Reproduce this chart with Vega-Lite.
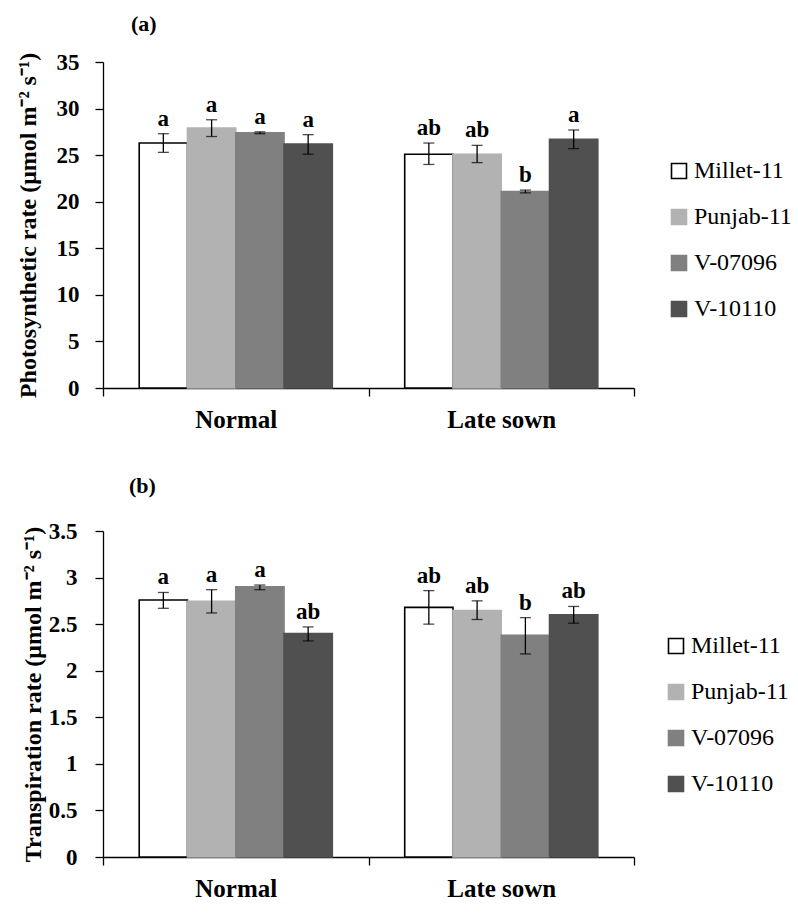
{
  "$schema": "https://vega.github.io/schema/vega-lite/v6.json",
  "padding": {"left": 16, "top": 13, "right": 5, "bottom": 5},
  "background": "white",
  "config": {
    "font": "Liberation Serif",
    "view": {"stroke": null},
    "axis": {
      "domainColor": "black",
      "domainWidth": 1.3,
      "tickColor": "black",
      "tickWidth": 1.3,
      "labelColor": "black",
      "titleColor": "black",
      "labelFont": "Liberation Serif",
      "titleFont": "Liberation Serif",
      "grid": false
    },
    "text": {"font": "Liberation Serif"},
    "title": {"font": "Liberation Serif", "fontSize": 22, "fontWeight": "bold", "color": "black", "anchor": "start", "frame": "group"},
    "legend": {
      "orient": "none",
      "symbolType": "square",
      "symbolSize": 225,
      "symbolStrokeWidth": 1.6,
      "labelFont": "Liberation Serif",
      "labelFontSize": 24,
      "labelColor": "black",
      "labelOffset": 3,
      "rowPadding": 22,
      "title": null
    }
  },
  "datasets": {
    "pa": [
      {"sowing": "Normal", "variety": "Millet-11", "mean": 26.3, "lo": 25.3, "hi": 27.3, "letter": "a"},
      {"sowing": "Normal", "variety": "Punjab-11", "mean": 27.9, "lo": 27.0, "hi": 28.8, "letter": "a"},
      {"sowing": "Normal", "variety": "V-07096", "mean": 27.4, "lo": 27.3, "hi": 27.5, "letter": "a"},
      {"sowing": "Normal", "variety": "V-10110", "mean": 26.2, "lo": 25.1, "hi": 27.2, "letter": "a"},
      {"sowing": "Late sown", "variety": "Millet-11", "mean": 25.1, "lo": 24.0, "hi": 26.3, "letter": "ab"},
      {"sowing": "Late sown", "variety": "Punjab-11", "mean": 25.1, "lo": 24.2, "hi": 26.05, "letter": "ab"},
      {"sowing": "Late sown", "variety": "V-07096", "mean": 21.1, "lo": 20.95, "hi": 21.25, "letter": "b"},
      {"sowing": "Late sown", "variety": "V-10110", "mean": 26.7, "lo": 25.7, "hi": 27.7, "letter": "a"}
    ],
    "pb": [
      {"sowing": "Normal", "variety": "Millet-11", "mean": 2.76, "lo": 2.67, "hi": 2.84, "letter": "a"},
      {"sowing": "Normal", "variety": "Punjab-11", "mean": 2.745, "lo": 2.62, "hi": 2.87, "letter": "a"},
      {"sowing": "Normal", "variety": "V-07096", "mean": 2.9, "lo": 2.87, "hi": 2.92, "letter": "a"},
      {"sowing": "Normal", "variety": "V-10110", "mean": 2.4, "lo": 2.32, "hi": 2.47, "letter": "ab"},
      {"sowing": "Late sown", "variety": "Millet-11", "mean": 2.68, "lo": 2.5, "hi": 2.86, "letter": "ab"},
      {"sowing": "Late sown", "variety": "Punjab-11", "mean": 2.645, "lo": 2.55, "hi": 2.75, "letter": "ab"},
      {"sowing": "Late sown", "variety": "V-07096", "mean": 2.38, "lo": 2.18, "hi": 2.57, "letter": "b"},
      {"sowing": "Late sown", "variety": "V-10110", "mean": 2.6, "lo": 2.51, "hi": 2.69, "letter": "ab"}
    ]
  },
  "columns": 1,
  "align": "none",
  "spacing": 43,
  "resolve": {
    "scale": {"fill": "independent", "stroke": "independent"},
    "legend": {"fill": "independent", "stroke": "independent"}
  },
  "concat": [
    {
      "title": {"text": "(a)", "dx": 28, "offset": 15},
      "width": 531,
      "height": 326,
      "data": {"name": "pa"},
      "encoding": {
        "x": {
          "field": "sowing", "type": "nominal", "sort": ["Normal", "Late sown"],
          "scale": {"paddingInner": 0, "paddingOuter": 0},
          "axis": {"title": null, "labelAngle": 0, "tickBand": "extent", "tickSize": 8, "labelPadding": 11, "labelFontSize": 25, "labelFontWeight": "bold", "labelFont": "Liberation Serif"}
        },
        "xOffset": {
          "field": "variety", "type": "nominal", "sort": ["Millet-11", "Punjab-11", "V-07096", "V-10110"],
          "scale": {"paddingInner": 0, "paddingOuter": 0.75}
        }
      },
      "layer": [
        {
          "mark": {"type": "bar", "strokeWidth": 1.6},
          "encoding": {
            "y": {
              "field": "mean", "type": "quantitative",
              "scale": {"domain": [0, 35], "nice": false},
              "title": "Photosynthetic rate (μmol m⁻² s⁻¹)",
              "axis": {"values": [0, 5, 10, 15, 20, 25, 30, 35], "tickSize": 8, "labelPadding": 16, "labelFontSize": 23, "labelFontWeight": "bold", "titleFontSize": 24, "titleFontWeight": "bold", "titlePadding": 16}
            },
            "fill": {
              "field": "variety", "type": "nominal",
              "scale": {"domain": ["Millet-11", "Punjab-11", "V-07096", "V-10110"], "range": ["#ffffff", "#b2b2b2", "#808080", "#505050"]},
              "legend": {"legendX": 564, "legendY": 97, "labelFont": "Liberation Serif"}
            },
            "stroke": {
              "field": "variety", "type": "nominal",
              "scale": {"domain": ["Millet-11", "Punjab-11", "V-07096", "V-10110"], "range": ["#000000", "#b2b2b2", "#808080", "#505050"]},
              "legend": {"legendX": 564, "legendY": 97, "labelFont": "Liberation Serif"}
            }
          }
        },
        {
          "mark": {"type": "rule", "color": "black", "strokeWidth": 1.3},
          "encoding": {
            "y": {"field": "lo", "type": "quantitative", "title": "Photosynthetic rate (μmol m⁻² s⁻¹)"},
            "y2": {"field": "hi"}
          }
        },
        {
          "mark": {"type": "tick", "color": "black", "thickness": 1.3, "size": 11},
          "encoding": {"y": {"field": "lo", "type": "quantitative", "title": "Photosynthetic rate (μmol m⁻² s⁻¹)"}}
        },
        {
          "mark": {"type": "tick", "color": "black", "thickness": 1.3, "size": 11},
          "encoding": {"y": {"field": "hi", "type": "quantitative", "title": "Photosynthetic rate (μmol m⁻² s⁻¹)"}}
        },
        {
          "mark": {"type": "text", "font": "Liberation Serif", "fontSize": 23, "fontWeight": "bold", "color": "black", "baseline": "alphabetic", "dy": -8},
          "encoding": {
            "y": {"field": "hi", "type": "quantitative", "title": "Photosynthetic rate (μmol m⁻² s⁻¹)"},
            "text": {"field": "letter"}
          }
        }
      ]
    },
    {
      "title": {"text": "(b)", "dx": 26, "offset": 22},
      "width": 531,
      "height": 326,
      "data": {"name": "pb"},
      "encoding": {
        "x": {
          "field": "sowing", "type": "nominal", "sort": ["Normal", "Late sown"],
          "scale": {"paddingInner": 0, "paddingOuter": 0},
          "axis": {"title": null, "labelAngle": 0, "tickBand": "extent", "tickSize": 8, "labelPadding": 11, "labelFontSize": 25, "labelFontWeight": "bold", "labelFont": "Liberation Serif"}
        },
        "xOffset": {
          "field": "variety", "type": "nominal", "sort": ["Millet-11", "Punjab-11", "V-07096", "V-10110"],
          "scale": {"paddingInner": 0, "paddingOuter": 0.75}
        }
      },
      "layer": [
        {
          "mark": {"type": "bar", "strokeWidth": 1.6},
          "encoding": {
            "y": {
              "field": "mean", "type": "quantitative",
              "scale": {"domain": [0, 3.5], "nice": false},
              "title": "Transpiration rate (μmol m⁻² s⁻¹)",
              "axis": {"values": [0, 0.5, 1, 1.5, 2, 2.5, 3, 3.5], "labelExpr": "datum.value", "tickSize": 8, "labelPadding": 18, "labelFontSize": 23, "labelFontWeight": "bold", "titleFontSize": 24, "titleFontWeight": "bold", "titlePadding": 3}
            },
            "fill": {
              "field": "variety", "type": "nominal",
              "scale": {"domain": ["Millet-11", "Punjab-11", "V-07096", "V-10110"], "range": ["#ffffff", "#b2b2b2", "#808080", "#505050"]},
              "legend": {"legendX": 561, "legendY": 103, "labelFont": "Liberation Serif"}
            },
            "stroke": {
              "field": "variety", "type": "nominal",
              "scale": {"domain": ["Millet-11", "Punjab-11", "V-07096", "V-10110"], "range": ["#000000", "#b2b2b2", "#808080", "#505050"]},
              "legend": {"legendX": 561, "legendY": 103, "labelFont": "Liberation Serif"}
            }
          }
        },
        {
          "mark": {"type": "rule", "color": "black", "strokeWidth": 1.3},
          "encoding": {
            "y": {"field": "lo", "type": "quantitative", "title": "Transpiration rate (μmol m⁻² s⁻¹)"},
            "y2": {"field": "hi"}
          }
        },
        {
          "mark": {"type": "tick", "color": "black", "thickness": 1.3, "size": 11},
          "encoding": {"y": {"field": "lo", "type": "quantitative", "title": "Transpiration rate (μmol m⁻² s⁻¹)"}}
        },
        {
          "mark": {"type": "tick", "color": "black", "thickness": 1.3, "size": 11},
          "encoding": {"y": {"field": "hi", "type": "quantitative", "title": "Transpiration rate (μmol m⁻² s⁻¹)"}}
        },
        {
          "mark": {"type": "text", "font": "Liberation Serif", "fontSize": 23, "fontWeight": "bold", "color": "black", "baseline": "alphabetic", "dy": -8},
          "encoding": {
            "y": {"field": "hi", "type": "quantitative", "title": "Transpiration rate (μmol m⁻² s⁻¹)"},
            "text": {"field": "letter"}
          }
        }
      ]
    }
  ]
}
